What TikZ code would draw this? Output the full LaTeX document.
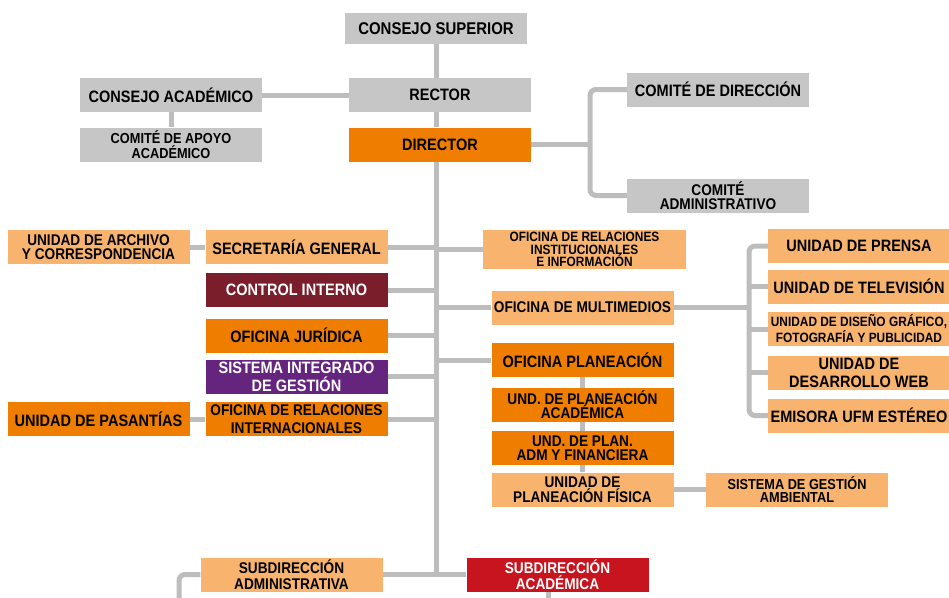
\documentclass[tikz,border=0pt]{standalone}
\usepackage{fontspec}
\setmainfont{Liberation Sans}[FakeStretch=0.88]
\usetikzlibrary{positioning, backgrounds}

\definecolor{boxgray}{HTML}{C6C6C6}
\definecolor{linegray}{HTML}{BDBDBD}
\definecolor{orgdark}{HTML}{EE7D00}
\definecolor{orglight}{HTML}{F8B46F}
\definecolor{wine}{HTML}{7B1E2C}
\definecolor{violet}{HTML}{65257F}
\definecolor{crimson}{HTML}{C8141E}

\begin{document}
\begin{tikzpicture}[
  x=1pt, y=-1pt,
  font=\bfseries\fontsize{16.5}{16}\selectfont,
  unit/.style={
    align=center,
    inner sep=0pt,
    minimum width=182pt,
    minimum height=34pt,
    text=black
  },
  grey/.style={unit, fill=boxgray},
  orng/.style={unit, fill=orgdark},
  pale/.style={unit, fill=orglight},
  dark/.style={unit, text=white},
  tight/.style={font=\bfseries\fontsize{15.5}{14.5}\selectfont},
  small/.style={font=\bfseries\fontsize{14.5}{15}\selectfont},
  link/.style={line width=5pt, draw=linegray, rounded corners=6pt}
]

\useasboundingbox (0,0) rectangle (949,597);

% cabeza
\node[grey, minimum height=31pt, font=\bfseries\fontsize{17}{16}\selectfont] (superior) at (436,28.5) {CONSEJO SUPERIOR};
\node[grey] (rector) at (440,95) {RECTOR};
\node[orng] (director) at (440,144.5) {DIRECTOR};
\node[grey] (cacad) at (171,95) {CONSEJO ACADÉMICO};
\node[grey, small] (apoyo) at (171,144.5) {COMITÉ DE APOYO\\ACADÉMICO};
\node[grey] (cdir) at (718,89.5) {COMITÉ DE DIRECCIÓN};
\node[grey, tight] (cadm) at (718,195.5) {COMITÉ\\ADMINISTRATIVO};

% lado izquierdo
\node[pale, tight] (archivo) at (98.5,247) {UNIDAD DE ARCHIVO\\Y CORRESPONDENCIA};
\node[pale] (secgen) at (296.5,247) {SECRETARÍA GENERAL};
\node[dark, fill=wine] (control) at (296.5,290) {CONTROL INTERNO};
\node[orng] (juridica) at (296.5,335.5) {OFICINA JURÍDICA};
\node[dark, fill=violet, font=\bfseries\fontsize{16.5}{18}\selectfont] (sig) at (296.5,376.5) {SISTEMA INTEGRADO\\DE GESTIÓN};
\node[orng] (pasantias) at (98.5,419) {UNIDAD DE PASANTÍAS};
\node[orng, font=\bfseries\fontsize{15.5}{18}\selectfont] (relint) at (296.5,419) {OFICINA DE RELACIONES\\INTERNACIONALES};

% lado derecho
\node[pale, minimum width=203pt, minimum height=39pt, font=\bfseries\fontsize{13.5}{12.5}\selectfont] (relinst) at (584.5,249.5) {OFICINA DE RELACIONES\\INSTITUCIONALES\\E INFORMACIÓN};
\node[pale, font=\bfseries\fontsize{15.5}{16}\selectfont] (multi) at (582.5,307.5) {OFICINA DE MULTIMEDIOS};
\node[orng] (planea) at (582.5,360) {OFICINA PLANEACIÓN};
\node[orng, tight] (placad) at (582.5,404.5) {UND. DE PLANEACIÓN\\ACADÉMICA};
\node[orng, tight] (pladm) at (582.5,448) {UND. DE PLAN.\\ADM Y FINANCIERA};
\node[pale, tight] (plfis) at (582.5,489.5) {UNIDAD DE\\PLANEACIÓN FÍSICA};
\node[pale, font=\bfseries\fontsize{14.5}{13.5}\selectfont] (sga) at (797,489.5) {SISTEMA DE GESTIÓN\\AMBIENTAL};

% multimedios
\node[pale] (prensa) at (859,246) {UNIDAD DE PRENSA};
\node[pale] (tv) at (859,286.5) {UNIDAD DE TELEVISIÓN};
\node[pale, font=\bfseries\fontsize{13.5}{16}\selectfont] (diseno) at (859,329) {UNIDAD DE DISEÑO GRÁFICO,\\FOTOGRAFÍA Y PUBLICIDAD};
\node[pale, font=\bfseries\fontsize{16.5}{18}\selectfont] (web) at (859,372.5) {UNIDAD DE\\DESARROLLO WEB};
\node[pale] (emisora) at (859,415.5) {EMISORA UFM ESTÉREO};

% subdirecciones
\node[pale, font=\bfseries\fontsize{15.5}{16}\selectfont] (subadm) at (291.5,574.5) {SUBDIRECCIÓN\\ADMINISTRATIVA};
\node[dark, fill=crimson, font=\bfseries\fontsize{15.5}{16}\selectfont] (subacad) at (557.5,574.5) {SUBDIRECCIÓN\\ACADÉMICA};

\coordinate (spine) at (436,574.5);
\coordinate (cbus) at (590,0);
\coordinate (mbus) at (749,0);
\coordinate (admleg) at (179,620);
\coordinate (acadleg) at (548,620);

% conectores
\begin{scope}[on background layer]
\fill[white] (0,0) rectangle (949,597);
\draw[link] (superior.south) -- (superior.south |- rector.north);
\draw[link] (rector.south -| spine) -- (director.north -| spine);
\draw[link] (director.south -| spine) -- (spine);
\draw[link] (cacad) -- (rector);
\draw[link] (cacad) -- (apoyo);
\draw[link] (cdir.west) -- (cdir.west -| cbus) |- (cadm.west);
\draw[link] (director.east) -- (director.east -| cbus);
\foreach \n in {secgen, control, juridica, sig, relint}
  \draw[link] (\n.east) -- (\n.east -| spine);
\foreach \n in {relinst, multi, planea}
  \draw[link] (\n.west) -- (\n.west -| spine);
\draw[link] (archivo) -- (secgen);
\draw[link] (pasantias) -- (relint);
\draw[link] (prensa.west) -- (prensa.west -| mbus) |- (emisora.west);
\foreach \n in {tv, diseno, web}
  \draw[link] (\n.west) -- (\n.west -| mbus);
\draw[link] (multi.east) -- (multi.east -| mbus);
\draw[link] (planea) -- (plfis);
\draw[link] (plfis) -- (sga);
\draw[link] (subadm) -- (subacad);
\draw[link] (subadm.west) -| (admleg);
\draw[link] (subacad.south -| acadleg) -- (acadleg);
\end{scope}

\end{tikzpicture}
\end{document}
